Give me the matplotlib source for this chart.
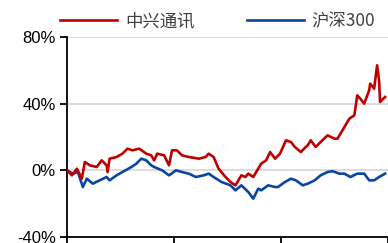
import numpy as np
import matplotlib
matplotlib.use("Agg")
import matplotlib.pyplot as plt

plt.rcParams['font.family'] = ['Liberation Sans', 'Noto Sans CJK SC', 'DejaVu Sans']

# trading-day index and cumulative returns (%)
zte_days = [0, 5, 10, 15, 18, 23, 30, 35, 40, 41, 43, 50, 56, 61, 66, 73, 80, 85, 88,
            91, 98, 103, 106, 111, 116, 123, 133, 140, 143, 148, 153, 160, 165, 170,
            176, 180, 183, 188, 193, 196, 201, 205, 210, 215, 221, 226, 230, 236, 241,
            243, 246, 251, 256, 263, 270, 273, 278, 280, 285, 290, 293, 296, 300, 305,
            306, 310, 313, 315, 316, 321]
zte_ret = [0, -3, 1, -5, 5, 3, 2, 6, 3, -1, 7, 8, 10, 13, 12, 13, 10, 9, 6,
           10, 9, 3, 12, 12, 9, 8, 7, 8, 10, 8, 1, -4, -7, -9,
           -3, -4, -2, -4, 1, 4, 6, 11, 7, 10, 18, 17, 14, 11, 14,
           15, 18, 14, 17, 21, 19, 19, 24, 26, 31, 33, 45, 43, 40, 48,
           52, 49, 63, 54, 41, 44]

hs300_days = [0, 6, 11, 16, 20, 26, 33, 40, 43, 50, 56, 65, 70, 75, 80, 85, 88, 96,
              103, 110, 116, 123, 130, 138, 143, 148, 156, 165, 170, 176, 183, 188,
              193, 196, 203, 210, 213, 220, 226, 231, 238, 243, 250, 256, 263, 268,
              275, 280, 286, 293, 300, 305, 310, 315, 321]
hs300_ret = [0, -2, -1, -10, -5, -8, -6, -4, -6, -3, -1, 2, 4, 7, 6, 3, 2, 0,
             -3, 0, -1, -2, -4, -3, -2, -4, -7, -9, -12, -9, -13, -17,
             -11, -12, -9, -10, -10, -7, -5, -6, -9, -8, -6, -3, -1, -0.5,
             -2, -2, -4, -2, -2, -6, -6, -4, -2]

yticks = [-40, 0, 40, 80]
ytick_labels = ['-40%', '0%', '40%', '80%']
xticks = [0, 108, 216, 324]

W, H = 388, 243
fig = plt.figure(figsize=(W / 100, H / 100), dpi=100)
left, right, top, bottom = 67, 388, 37, 237
ax = fig.add_axes([left / W, 1 - bottom / H, (right - left) / W, (bottom - top) / H])

ax.plot(hs300_days, hs300_ret, color='#0A46A0', lw=1.9, label='沪深300', zorder=3)
ax.plot(zte_days, zte_ret, color='#C00000', lw=1.9, label='中兴通讯', zorder=4)

ax.set_xlim(0, 321)
ax.set_ylim(-40, 80)
ax.set_yticks(yticks)
ax.set_yticklabels(ytick_labels, fontsize=12)
ax.set_xticks(xticks)
ax.set_xticklabels([])
ax.grid(axis='y', color='#D9D9D9', lw=1.3)
ax.set_axisbelow(True)
for s in ['top', 'right']:
    ax.spines[s].set_visible(False)
for s in ['left', 'bottom']:
    ax.spines[s].set_linewidth(1.3)
    ax.spines[s].set_color('black')
ax.tick_params(axis='both', width=1.3, length=5, pad=3)

handles, labels = ax.get_legend_handles_labels()
leg = fig.legend(handles[::-1], labels[::-1], loc='center left',
                 bbox_to_anchor=(60 / W, 1 - 21 / H), ncol=2, frameon=False,
                 borderpad=0, borderaxespad=0, handlelength=3.3, handletextpad=0.45,
                 columnspacing=3.0,
                 prop={'family': ['Noto Sans CJK SC', 'DejaVu Sans'], 'size': 12.5,
                       'weight': 'light'})
for t in leg.get_texts():
    t.set_color('#404040')

fig.savefig('out.png', dpi=100)
